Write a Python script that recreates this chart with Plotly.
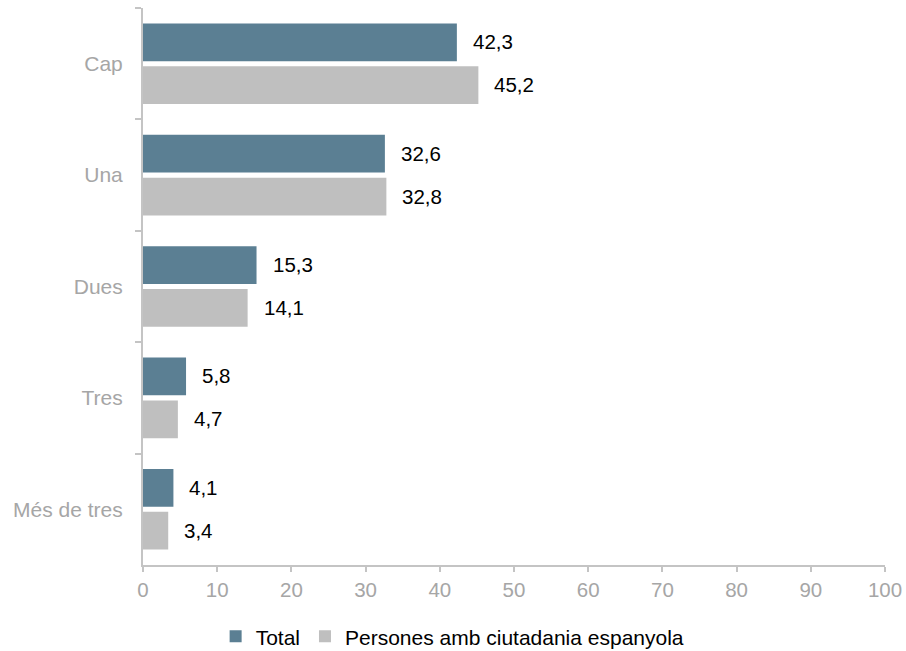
import plotly.graph_objects as go

categories = ["Cap", "Una", "Dues", "Tres", "Més de tres"]
total = [42.3, 32.6, 15.3, 5.8, 4.1]
espanyola = [45.2, 32.8, 14.1, 4.7, 3.4]
series_names = ["Total", "Persones amb ciutadania espanyola"]
x_ticks = list(range(0, 101, 10))

C_TOTAL = "#5b7f93"
C_ESP = "#bfbfbf"
FONT = "Liberation Sans, Arial, sans-serif"

def fmt(v):
    return f"{v:.1f}".replace(".", ",")

fig = go.Figure()
fig.add_trace(go.Bar(y=categories, x=total, name=series_names[0], orientation="h",
                     marker=dict(color=C_TOTAL, line=dict(width=0))))
fig.add_trace(go.Bar(y=categories, x=espanyola, name=series_names[1], orientation="h",
                     marker=dict(color=C_ESP, line=dict(width=0))))

ann = []
for cat, vt, ve in zip(categories, total, espanyola):
    ann.append(dict(x=vt, y=cat, text=fmt(vt), showarrow=False, xanchor="left",
                    xshift=14, yshift=22, font=dict(size=20.5, color="#000000", family=FONT)))
    ann.append(dict(x=ve, y=cat, text=fmt(ve), showarrow=False, xanchor="left",
                    xshift=14, yshift=-21, font=dict(size=20.5, color="#000000", family=FONT)))

fig.update_layout(
    width=906, height=651,
    margin=dict(l=143, r=21, t=8, b=86, autoexpand=False),
    paper_bgcolor="white", plot_bgcolor="white",
    barmode="group", bargap=0.23, bargroupgap=0.12,
    font=dict(family=FONT, size=20.5, color="#a6a6a6"),
    annotations=ann,
    showlegend=True,
    legend=dict(orientation="h", xref="container", yref="container",
                x=0.238, xanchor="left", y=0.022, yanchor="middle",
                itemwidth=30,
                font=dict(size=21, color="#000000", family=FONT), traceorder="normal"),
    xaxis=dict(range=[0, 100], tickvals=x_ticks, showgrid=False, zeroline=False,
               showline=True, linecolor="#c4c4c4", linewidth=2,
               ticks="outside", ticklen=5, tickcolor="#c4c4c4", tickwidth=2,
               automargin=False,
               tickfont=dict(size=20.5, color="#a6a6a6")),
    yaxis=dict(autorange="reversed", showgrid=False, zeroline=False,
               showline=True, linecolor="#c4c4c4", linewidth=2,
               ticks="outside", ticklen=6, tickcolor="#c4c4c4", tickwidth=2,
               tickson="boundaries", ticklabelstandoff=14, automargin=False,
               tickfont=dict(size=21, color="#a6a6a6")),
)

fig.write_html("out.html", config={"displayModeBar": False},
               post_script="document.body.style.margin='0px';")
